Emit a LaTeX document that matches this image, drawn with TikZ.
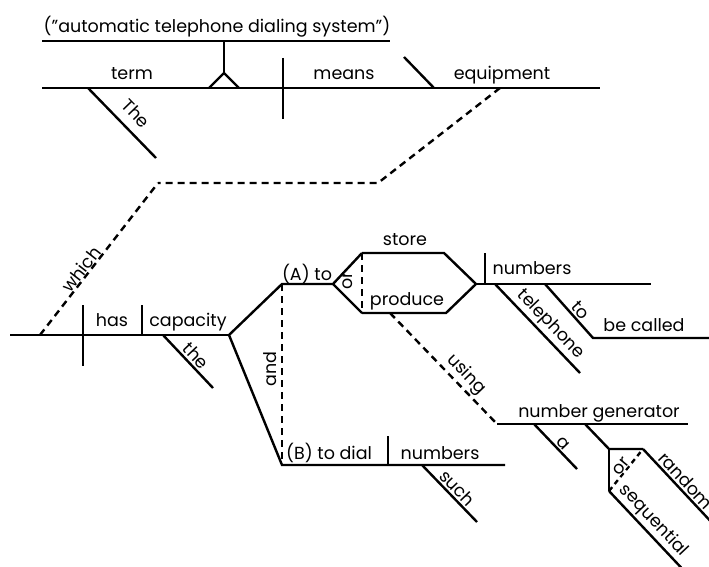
\documentclass[tikz,border=0pt]{standalone}
\usepackage{fontspec}
\setmainfont{Poppins}
\usepackage{tikz}
\usetikzlibrary{positioning}
\tikzset{%
  rkline/.style={%
    line width=2.4pt,
    line cap=butt,
    line join=miter
  },
  rkdash/.style={%
    rkline,
    dash pattern=on 7pt off 5pt
  },
  rkword/.style={%
    inner sep=0pt,
    anchor=base,
    font=\fontsize{17.5}{21}\selectfont
  },
  rkslant/.style={%
    font=\fontsize{17.5}{21}\selectfont,
    inner sep=2pt,
    sloped,
    above
  }
}

\begin{document}
\begin{tikzpicture}[x=1pt,y=-1pt]
    \clip (0,0) rectangle (709,567);

    \coordinate (apL) at (42,41);
    \coordinate (apR) at (390,41);
    \coordinate (stemT) at (224,41);
    \coordinate (stemB) at (224,73);
    \coordinate (pedL) at (209,88);
    \coordinate (pedR) at (239,88);
    \coordinate (topL) at (42,88);
    \coordinate (topR) at (600,88);
    \coordinate (divT) at (283,58);
    \coordinate (divB) at (283,119);
    \coordinate (theT) at (88,88);
    \coordinate (theB) at (156,158);
    \coordinate (ocT) at (404,57);
    \coordinate (ocB) at (434,88);
    \coordinate (equip) at (500,88);
    \coordinate (relA) at (378,183);
    \coordinate (relB) at (158,183);
    \coordinate (which) at (40,335);

    \coordinate (lowL) at (10,335);
    \coordinate (fork) at (229,335);
    \coordinate (hasT) at (83,305);
    \coordinate (hasB) at (83,366);
    \coordinate (capT) at (142,305);
    \coordinate (capB) at (142,335);
    \coordinate (the2T) at (163,335);
    \coordinate (the2B) at (213,388);
    \coordinate (aS) at (282,284);
    \coordinate (aE) at (333,284);
    \coordinate (bS) at (282,465);
    \coordinate (bE) at (505,465);
    \coordinate (orU) at (362,253);
    \coordinate (orD) at (362,313);
    \coordinate (storeE) at (444,253);
    \coordinate (prodE) at (446,313);
    \coordinate (join) at (476,284);
    \coordinate (numE) at (651,284);
    \coordinate (numT) at (485,253);
    \coordinate (numB) at (485,284);
    \coordinate (telT) at (495,284);
    \coordinate (telB) at (580,373);
    \coordinate (toT) at (545,284);
    \coordinate (toB) at (593,338);
    \coordinate (callE) at (709,338);
    \coordinate (useT) at (390,313);
    \coordinate (genL) at (497,424);
    \coordinate (genR) at (688,424);
    \coordinate (artT) at (534,424);
    \coordinate (artB) at (577,469);
    \coordinate (modT) at (585,424);
    \coordinate (modF) at (609,449);
    \coordinate (randT) at (643,449);
    \coordinate (randB) at (730,542);
    \coordinate (seqT) at (609,491);
    \coordinate (seqB) at (690,577);
    \coordinate (dialT) at (388,436);
    \coordinate (dialB) at (388,465);
    \coordinate (suchT) at (422,465);
    \coordinate (suchB) at (477,522);

    \draw[rkline] (apL) -- (apR);
    \draw[rkline] (stemT) -- (stemB);
    \draw[rkline] (pedL) -- (stemB) -- (pedR);
    \draw[rkline] (topL) -- (topR);
    \draw[rkline] (divT) -- (divB);
    \draw[rkline] (theT) -- node[rkslant,pos=0.53,above=7pt] (lthe) {The} (theB);
    \draw[rkline] (ocT) -- (ocB);
    \draw[rkdash] (equip) -- (relA) -- (relB);
    \draw[rkdash] (which) -- node[rkslant,pos=0.4,inner sep=0pt] (lwhich) {which} (relB);

    \draw[rkline] (lowL) -- (fork);
    \draw[rkline] (hasT) -- (hasB);
    \draw[rkline] (capT) -- (capB);
    \draw[rkline] (the2T) -- node[rkslant,pos=0.52] (lthe2) {the} (the2B);
    \draw[rkline] (bE) -- (bS) -- (fork) -- (aS) -- (aE);
    \draw[rkdash] (aS) -- (bS);
    \draw[rkline] (orU) -- (aE) -- (orD);
    \draw[rkdash] (orU) -- (orD);
    \draw[rkline] (orU) -- (storeE) -- (join) -- (prodE) -- (orD);
    \draw[rkline] (join) -- (numE);
    \draw[rkline] (numT) -- (numB);
    \draw[rkline] (telT) -- node[rkslant,pos=0.55] (ltel) {telephone} (telB);
    \draw[rkline] (toT) -- node[rkslant,pos=0.6] (lto) {to} (toB) -- (callE);
    \draw[rkdash] (useT) -- node[rkslant,pos=0.63] (luse) {using} (genL);
    \draw[rkline] (genL) -- (genR);
    \draw[rkline] (artT) -- node[rkslant,pos=0.55] (lart) {a} (artB);
    \draw[rkline] (modT) -- (modF) -- (randT);
    \draw[rkline] (modF) -- (seqT);
    \draw[rkline] (randT) -- node[rkslant,pos=0.41] (lrand) {random} (randB);
    \draw[rkline] (seqT) -- node[rkslant,pos=0.44] (lseq) {sequential} (seqB);
    \draw[rkdash,dash pattern=on 5pt off 4pt] (seqT) -- node[rkslant,pos=0.5,above=0pt,inner sep=0pt,fill=white] (lor2) {or} (randT);
    \draw[rkline] (dialT) -- (dialB);
    \draw[rkline] (suchT) -- node[rkslant,pos=0.52] (lsuch) {such} (suchB);

    \node[rkword] (appos) at (217,33) {(”automatic telephone dialing system”)};
    \node[rkword] (term) at (132,80) {term};
    \node[rkword] (means) at (344,80) {means};
    \node[rkword] (equipment) at (502,80) {equipment};
    \node[rkword] (has) at (112,326) {has};
    \node[rkword] (capacity) at (188,326) {capacity};
    \node[rkword] (ato) at (307,280) {(A) to};
    \node[rkword,anchor=center,rotate=90] (and) at (270,369) {and};
    \node[rkword,anchor=center,rotate=90] (or) at (348,281) {or};
    \node[rkword] (store) at (405,245) {store};
    \node[rkword] (produce) at (407,305) {produce};
    \node[rkword] (numbers) at (532,274) {numbers};
    \node[rkword] (becalled) at (644,331) {be called};
    \node[rkword] (generator) at (599,417) {number generator};
    \node[rkword] (btodial) at (329,459) {(B) to dial};
    \node[rkword] (numbers2) at (440,459) {numbers};
\end{tikzpicture}
\end{document}
